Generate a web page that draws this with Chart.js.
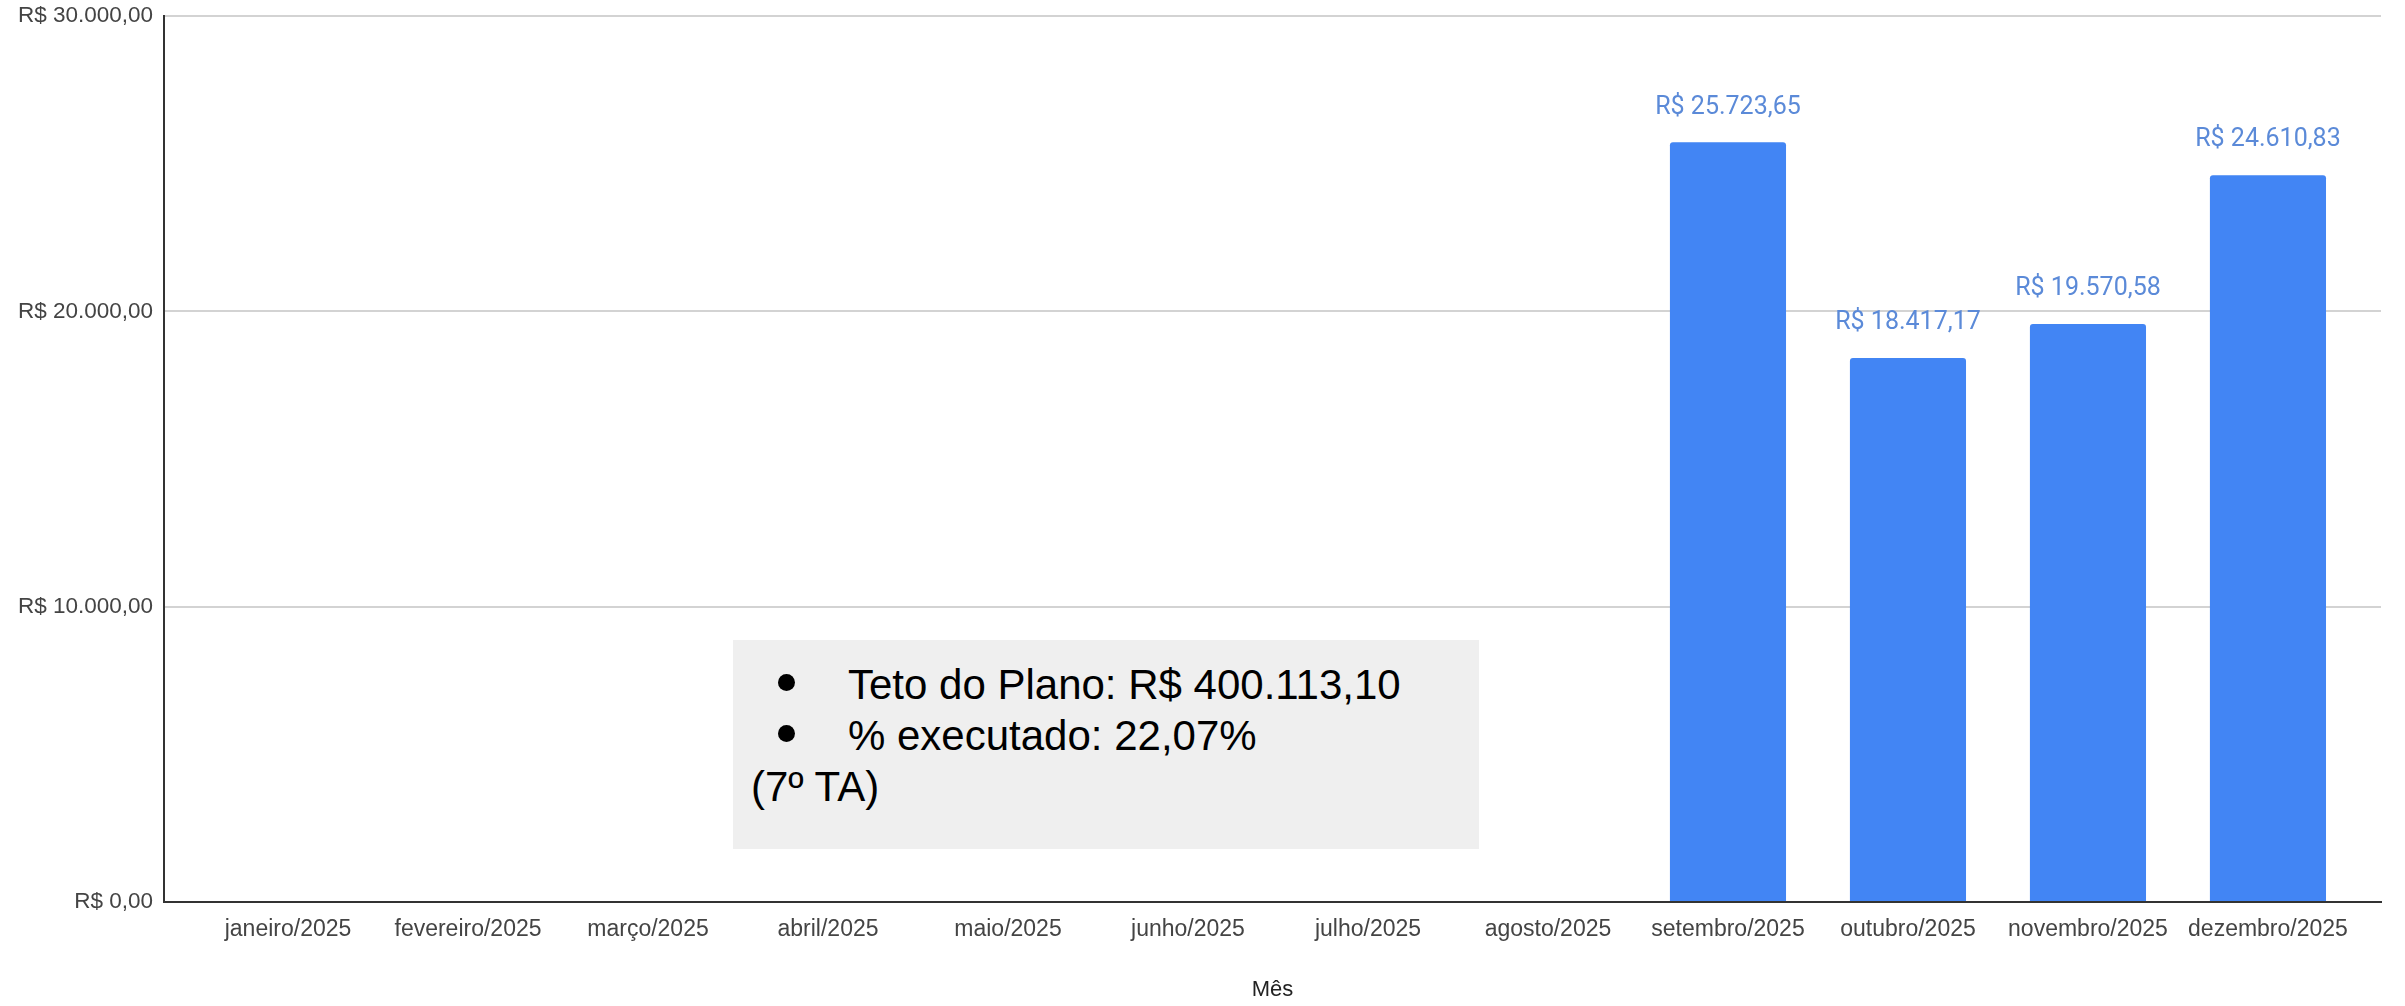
<!DOCTYPE html>
<html lang="pt-BR">
<head>
<meta charset="utf-8">
<title>Execução mensal 2025</title>
<script src="https://cdn.jsdelivr.net/npm/chart.js@4.4.1/dist/chart.umd.min.js"></script>
<style>
  html, body { margin: 0; padding: 0; background: #fff; }
  #wrap { position: relative; width: 2405px; height: 1006px; }
  #grafico { display: block; }
  .nota {
    position: absolute; left: 733px; top: 640px; width: 746px; height: 209px;
    box-sizing: border-box; padding-top: 19px;
    background: #efefef; color: #000;
    font-family: "Liberation Sans", Arial, sans-serif; font-size: 42px; line-height: 51px;
  }
  .nota div { position: relative; padding-left: 115px; white-space: nowrap; }
  .nota .ponto::before {
    content: ""; position: absolute; left: 45px; top: 15px;
    width: 17px; height: 17px; border-radius: 50%; background: #000;
  }
  .nota .ta { padding-left: 18px; }
</style>
</head>
<body>
<div id="wrap">
  <canvas id="grafico" width="2405" height="1006"></canvas>
  <div class="nota">
    <div class="ponto">Teto do Plano: R$ 400.113,10</div>
    <div class="ponto">% executado: 22,07%</div>
    <div class="ta">(7º TA)</div>
  </div>
</div>
<script>
const meses = [
  "janeiro/2025", "fevereiro/2025", "março/2025", "abril/2025",
  "maio/2025", "junho/2025", "julho/2025", "agosto/2025",
  "setembro/2025", "outubro/2025", "novembro/2025", "dezembro/2025"
];
// meses sem lançamento ficam vazios
const valores = [null, null, null, null, null, null, null, null, 25723.65, 18417.17, 19570.58, 24610.83];
const ticksY = [0, 10000, 20000, 30000];

const brl = new Intl.NumberFormat("pt-BR", { style: "currency", currency: "BRL" });

// rótulos de valor acima das barras
const rotulosBarras = {
  id: "rotulosBarras",
  afterDatasetsDraw(chart) {
    const ctx = chart.ctx;
    const meta = chart.getDatasetMeta(0);
    ctx.save();
    ctx.font = "25px Roboto";
    ctx.fillStyle = "#5b8ad8";
    ctx.textAlign = "center";
    ctx.textBaseline = "middle";
    meta.data.forEach((bar, i) => {
      if (valores[i] === null) return;
      ctx.fillText(brl.format(valores[i]), bar.x, bar.y - 35);
    });
    ctx.restore();
  }
};

new Chart(document.getElementById("grafico"), {
  type: "bar",
  data: {
    datasets: [{
      label: "Valor executado",
      data: meses.map((m, i) => ({ x: i, y: valores[i] })),
      backgroundColor: "#4285f4",
      borderRadius: 3,
      categoryPercentage: 1,
      barPercentage: 0.645
    }]
  },
  plugins: [rotulosBarras],
  options: {
    responsive: false,
    animation: false,
    layout: { padding: { top: 16, right: 24, bottom: 0, left: 0 } },
    plugins: {
      legend: { display: false },
      tooltip: { enabled: false }
    },
    scales: {
      x: {
        type: "linear",
        offset: false,
        min: -0.689,
        max: 11.628,
        afterBuildTicks: (s) => { s.ticks = meses.map((m, i) => ({ value: i })); },
        afterFit: (s) => { s.height = 104; },
        grid: { display: false, drawTicks: false, offset: false },
        border: { display: true, color: "#333333", width: 2 },
        ticks: {
          callback: (v) => meses[v],
          autoSkip: false,
          maxRotation: 0,
          padding: 14,
          color: "#444444",
          font: { family: "Liberation Sans", size: 23 }
        },
        title: {
          display: true,
          text: "Mês",
          color: "#222222",
          padding: { top: 0, bottom: 3 },
          font: { family: "Liberation Sans", size: 22 }
        }
      },
      y: {
        min: 0,
        max: 30000,
        afterBuildTicks: (s) => { s.ticks = ticksY.map(v => ({ value: v })); },
        afterFit: (s) => { s.width = 164; s.paddingTop = 0; s.paddingBottom = 0; },
        grid: {
          drawTicks: false,
          lineWidth: 2,
          color: (c) => (c.tick && c.tick.value === 0 ? "rgba(0,0,0,0)" : "#d3d3d3")
        },
        border: { display: true, color: "#333333", width: 2 },
        ticks: {
          callback: (v) => brl.format(v),
          padding: 11,
          color: "#444444",
          font: { family: "Liberation Sans", size: 22.5 }
        }
      }
    }
  }
});
</script>
</body>
</html>
